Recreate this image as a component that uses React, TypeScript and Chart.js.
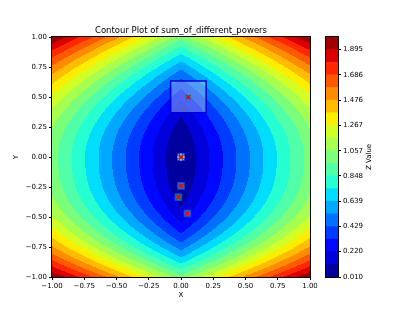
import React, { useEffect, useRef } from 'react';
import { Chart, registerables } from 'chart.js';

Chart.register(...registerables);

const TITLE = 'Contour Plot of sum_of_different_powers';
const X_LABEL = 'X';
const Y_LABEL = 'Y';
const CBAR_LABEL = 'Z Value';

// contour levels (linspace from z-min to z-max, 20 levels -> 19 bands)
const LEVELS = [0.010, 0.115, 0.220, 0.324, 0.429, 0.534, 0.639, 0.743, 0.848, 0.953, 1.057, 1.162, 1.267, 1.372, 1.476, 1.581, 1.686, 1.791, 1.895, 2.000];
const CBAR_TICKS = [0.010, 0.220, 0.429, 0.639, 0.848, 1.057, 1.267, 1.476, 1.686, 1.895];
const AXIS_TICKS = [-1, -0.75, -0.5, -0.25, 0, 0.25, 0.5, 0.75, 1];

// exponents of the surface
const X_POWER = 1;
const Y_POWER_UP = 2;
const Y_POWER_DOWN = 2.5;

// sampled points
const PTS_X = [0.057, 0.0, 0.0, -0.02, 0.05];
const PTS_Y = [0.50, 0.0, -0.24, -0.335, -0.47];
// points that carry a small box marker (indices into PTS)
const BOXED = [1, 2, 3, 4];
// highlighted region
const REGION_X = [-0.08, 0.195];
const REGION_Y = [0.37, 0.635];

const FONT = 'DejaVu Sans';

const JET: Record<string, number[][]> = {
  r: [[0, 0], [0.35, 0], [0.66, 1], [0.89, 1], [1, 0.5]],
  g: [[0, 0], [0.125, 0], [0.375, 1], [0.64, 1], [0.91, 0], [1, 0]],
  b: [[0, 0.5], [0.11, 1], [0.34, 1], [0.65, 0], [1, 0]],
};
function seg(pts: number[][], t: number) {
  for (let i = 1; i < pts.length; i++) {
    if (t <= pts[i][0]) {
      const [x0, y0] = pts[i - 1];
      const [x1, y1] = pts[i];
      return y0 + ((t - x0) / (x1 - x0)) * (y1 - y0);
    }
  }
  return pts[pts.length - 1][1];
}
function jet(t: number): number[] {
  return [seg(JET.r, t), seg(JET.g, t), seg(JET.b, t)].map((v) => Math.round(v * 255));
}
const NB = LEVELS.length - 1;
const BAND_RGB = LEVELS.slice(0, -1).map((_, k) => jet((k + 0.5) / NB));
const BAND_CSS = BAND_RGB.map(([r, g, b]) => `rgb(${r},${g},${b})`);

function field(x: number, y: number) {
  return Math.pow(Math.abs(x), X_POWER) + Math.pow(Math.abs(y), y >= 0 ? Y_POWER_UP : Y_POWER_DOWN);
}
function band(z: number) {
  for (let k = 0; k < NB; k++) if (z < LEVELS[k + 1]) return k;
  return NB - 1;
}

const fmt = (v: number) => (v < 0 ? '\u2212' : '') + Math.abs(v).toFixed(2);

const contourPlugin = {
  id: 'contour',
  beforeDatasetsDraw(chart: any) {
    const { ctx, chartArea, scales } = chart;
    const l = Math.round(chartArea.left);
    const t = Math.round(chartArea.top);
    const w = Math.round(chartArea.right) - l;
    const h = Math.round(chartArea.bottom) - t;
    const img = ctx.createImageData(w, h);
    for (let j = 0; j < h; j++) {
      const y = scales.y.getValueForPixel(t + j + 0.5);
      for (let i = 0; i < w; i++) {
        const x = scales.x.getValueForPixel(l + i + 0.5);
        const c = BAND_RGB[band(field(x, y))];
        const o = (j * w + i) * 4;
        img.data[o] = c[0];
        img.data[o + 1] = c[1];
        img.data[o + 2] = c[2];
        img.data[o + 3] = 255;
      }
    }
    ctx.putImageData(img, l, t);
    // highlighted region
    const x0 = scales.x.getPixelForValue(REGION_X[0]);
    const x1 = scales.x.getPixelForValue(REGION_X[1]);
    const y0 = scales.y.getPixelForValue(REGION_Y[1]);
    const y1 = scales.y.getPixelForValue(REGION_Y[0]);
    ctx.save();
    ctx.fillStyle = 'rgba(173,216,230,0.45)';
    ctx.fillRect(x0, y0, x1 - x0, y1 - y0);
    ctx.strokeStyle = '#0000dd';
    ctx.lineWidth = 1.5;
    ctx.strokeRect(x0, y0, x1 - x0, y1 - y0);
    ctx.restore();
  },
  afterDraw(chart: any) {
    const { ctx, chartArea } = chart;
    ctx.save();
    ctx.strokeStyle = '#000';
    ctx.lineWidth = 1;
    ctx.strokeRect(Math.round(chartArea.left) - 0.5, Math.round(chartArea.top) - 0.5,
      Math.round(chartArea.right) - Math.round(chartArea.left) + 1, Math.round(chartArea.bottom) - Math.round(chartArea.top) + 1);
    ctx.restore();
  },
};

const cbarPlugin = {
  id: 'cbarDeco',
  afterDraw(chart: any) {
    const { ctx, chartArea } = chart;
    ctx.save();
    ctx.strokeStyle = '#000';
    ctx.lineWidth = 1;
    ctx.strokeRect(Math.round(chartArea.left) - 0.5, Math.round(chartArea.top) - 0.5,
      Math.round(chartArea.right) - Math.round(chartArea.left) + 1, Math.round(chartArea.bottom) - Math.round(chartArea.top) + 1);
    ctx.fillStyle = '#000';
    ctx.font = `7px "${FONT}"`;
    ctx.textAlign = 'center';
    ctx.textBaseline = 'middle';
    ctx.translate(59, (chartArea.top + chartArea.bottom) / 2);
    ctx.rotate(-Math.PI / 2);
    ctx.fillText(CBAR_LABEL, 0, 0);
    ctx.restore();
  },
};

const pt = (i: number) => ({ x: PTS_X[i], y: PTS_Y[i] });

export default function App() {
  const mainRef = useRef<HTMLCanvasElement>(null);
  const cbarRef = useRef<HTMLCanvasElement>(null);

  useEffect(() => {
    const font = { family: FONT, size: 7 };
    const axisCommon = (title: string) => ({
      type: 'linear' as const,
      min: -1,
      max: 1,
      afterBuildTicks: (s: any) => {
        s.ticks = AXIS_TICKS.map((v) => ({ value: v }));
      },
      ticks: { callback: (v: any) => fmt(Number(v)), font, color: '#000', padding: 2, maxRotation: 0, autoSkip: false },
      grid: { display: true, drawOnChartArea: false, tickLength: 3, color: '#000', tickWidth: 1 },
      border: { display: true, color: '#000' },
      title: { display: true, text: title, font, color: '#000' },
    });
    const xs: any = axisCommon(X_LABEL);
    xs.title.padding = { top: 0, bottom: 13 };
    xs.afterFit = (s: any) => { s.height = 35; };
    const ys: any = axisCommon(Y_LABEL);
    ys.title.padding = { top: 12, bottom: 0 };
    ys.afterFit = (s: any) => { s.width = 52; };

    const main = new Chart(mainRef.current!, {
      type: 'scatter',
      data: {
        datasets: [
          { data: PTS_X.map((_, i) => pt(i)), pointStyle: 'rect', pointRadius: 2.4, backgroundColor: '#ff0000', borderWidth: 0 },
          { data: PTS_X.map((_, i) => pt(i)), pointStyle: 'crossRot', pointRadius: 3.2, borderColor: '#008000', borderWidth: 1.2 },
          { data: [pt(1)], pointStyle: 'star', pointRadius: 3.8, borderColor: '#e8e8e8', backgroundColor: '#e8e8e8', borderWidth: 1 },
          { data: BOXED.map(pt), pointStyle: 'rect', pointRadius: 4.8, backgroundColor: 'rgba(173,216,230,0.45)', borderColor: 'rgba(20,60,230,1)', borderWidth: 1 },
        ] as any,
      },
      options: {
        animation: false,
        responsive: false,
        layout: { padding: { left: 0, right: 106, top: 0, bottom: 0 } },
        plugins: {
          legend: { display: false },
          tooltip: { enabled: false },
          title: { display: true, text: TITLE, fullSize: false, font: { family: FONT, size: 8.5, weight: 'normal' }, color: '#000', padding: { top: 26, bottom: 1 } },
        },
        scales: { x: xs, y: ys },
      } as any,
      plugins: [contourPlugin],
    });

    const cbar = new Chart(cbarRef.current!, {
      type: 'bar',
      data: {
        labels: [''],
        datasets: BAND_CSS.map((c, k) => ({
          data: [[LEVELS[k], LEVELS[k + 1]]],
          backgroundColor: c,
          borderWidth: 0,
          grouped: false,
          barPercentage: 1,
          categoryPercentage: 1,
        })) as any,
      },
      options: {
        animation: false,
        responsive: false,
        layout: { padding: { left: 16, right: 0, top: 37, bottom: 35 } },
        plugins: { legend: { display: false }, tooltip: { enabled: false } },
        scales: {
          x: { display: false },
          y: {
            position: 'right',
            min: LEVELS[0],
            max: LEVELS[LEVELS.length - 1],
            afterBuildTicks: (s: any) => {
              s.ticks = CBAR_TICKS.map((v) => ({ value: v }));
            },
            ticks: { callback: (v: any) => Number(v).toFixed(3), font, color: '#000', padding: 2, autoSkip: false },
            grid: { display: true, drawOnChartArea: false, tickLength: 3, color: '#000' },
            border: { display: true, color: '#000' },
            afterFit: (s: any) => { s.width = 78; },
          },
        },
      } as any,
      plugins: [cbarPlugin],
    });

    return () => {
      main.destroy();
      cbar.destroy();
    };
  }, []);

  return (
    <div style={{ position: 'fixed', left: 0, top: 0, width: 416, height: 312, background: '#fff' }}>
      <canvas ref={mainRef} width={416} height={312} style={{ position: 'absolute', left: 0, top: 0, display: 'block' }} />
      <canvas ref={cbarRef} width={106} height={312} style={{ position: 'absolute', left: 310, top: 0, display: 'block' }} />
    </div>
  );
}
